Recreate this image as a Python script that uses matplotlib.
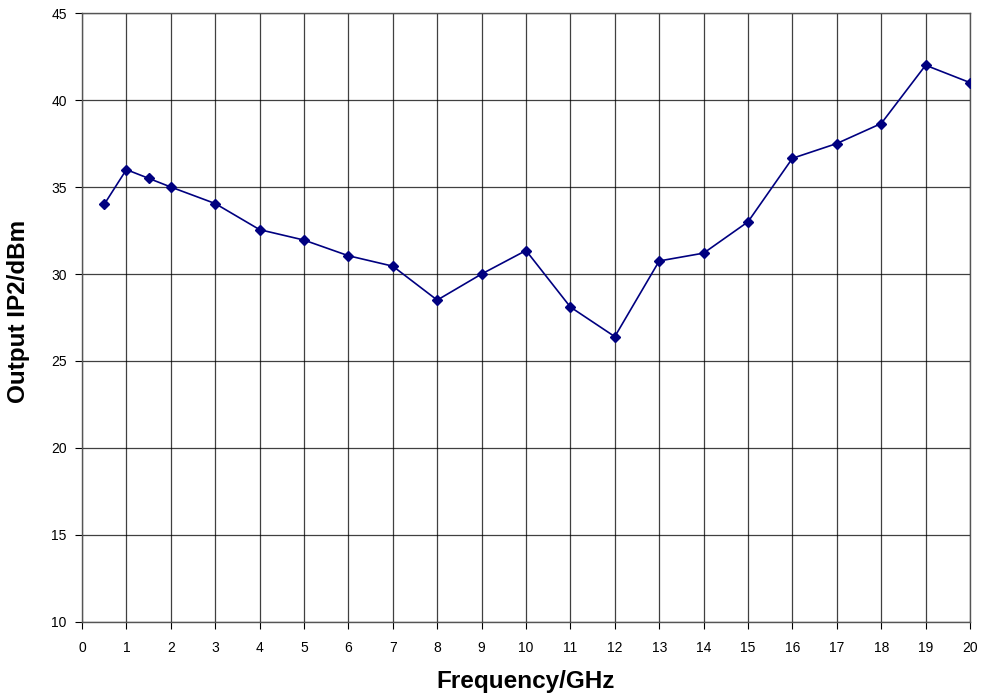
import matplotlib
matplotlib.use("Agg")
import matplotlib.pyplot as plt

plt.rcParams['font.family'] = ['Liberation Sans', 'DejaVu Sans']

# frequency (GHz)
freq = [0.5, 1, 1.5, 2, 3, 4, 5, 6, 7, 8, 9, 10, 11, 12, 13, 14, 15, 16, 17, 18, 19, 20]
# output IP2 (dBm)
ip2 = [34.0, 36.0, 35.5, 35.0, 34.05, 32.55, 31.95, 31.05, 30.45, 28.5, 30.0, 31.35,
       28.1, 26.4, 30.75, 31.2, 33.0, 36.65, 37.5, 38.65, 42.0, 41.0]

fig = plt.figure(figsize=(9.83, 6.93), dpi=100)
ax = fig.add_axes([0.0834, 0.1025, 0.9034, 0.8787])

ax.plot(freq, ip2, color='#000080', linewidth=1.2, marker='D', markersize=5.5,
        markerfacecolor='#000080', markeredgecolor='#000080', zorder=3)

ax.set_xlim(0, 20)
ax.set_ylim(10, 45)
ax.set_xticks(range(0, 21))
ax.set_yticks(range(10, 46, 5))
ax.grid(True, color='#000000', linewidth=0.9, alpha=0.75)
for s in ax.spines.values():
    s.set_color('#555555')
    s.set_linewidth(1.0)
ax.tick_params(axis='x', direction='out', length=5, pad=9, labelsize=10, colors='#000000')
ax.tick_params(axis='y', direction='out', length=5, pad=6, labelsize=10, colors='#000000')

ax.set_xlabel('Frequency/GHz', fontsize=17.5, fontweight='bold', va='center')
ax.set_ylabel('Output IP2/dBm', fontsize=17.5, fontweight='bold', va='center')
ax.xaxis.set_label_coords(0.5, -0.097)
ax.yaxis.set_label_coords(-0.071, 0.51)

fig.savefig('out.png', dpi=100)
